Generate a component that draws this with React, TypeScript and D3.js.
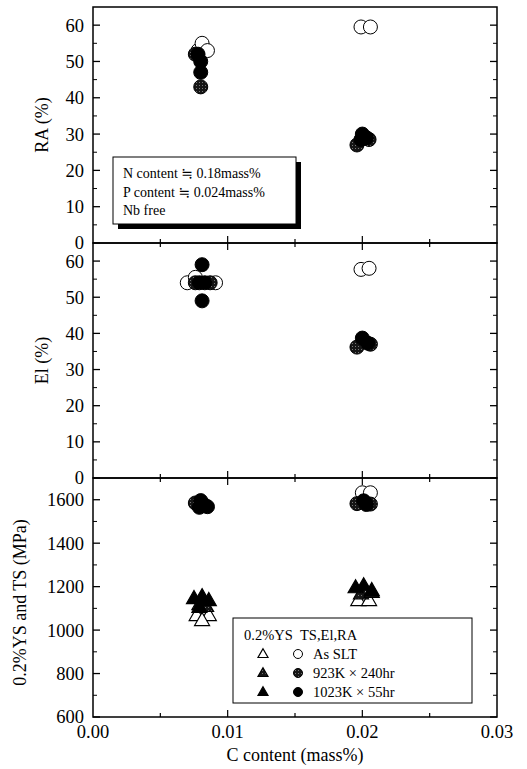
import * as d3 from "d3";

// x: C content (mass%)
const xTicks = [0, 0.01, 0.02, 0.03];

// RA (%)
const raOpen = [[0.0078, 53], [0.0081, 55], [0.0085, 53], [0.0199, 59.5], [0.0206, 59.5]];
const raGray = [[0.0076, 52], [0.0080, 43], [0.0196, 27], [0.0205, 28.5]];
const raBlack = [[0.0078, 52], [0.0080, 50], [0.0080, 47], [0.0199, 28.5], [0.0200, 30], [0.0203, 29]];

// El (%)
const elOpen = [[0.0070, 54], [0.0076, 55.5], [0.0091, 54], [0.0199, 57.7], [0.0205, 58]];
const elGray = [[0.0076, 54], [0.0087, 54], [0.0196, 36.2], [0.0206, 37]];
const elBlack = [[0.0081, 59], [0.0079, 54], [0.0083, 54], [0.0081, 49], [0.0200, 38.7], [0.0204, 37.3]];

// TS (MPa)
const tsOpen = [[0.0080, 1590], [0.0200, 1632], [0.0206, 1632]];
const tsGray = [[0.0076, 1585], [0.0083, 1575], [0.0196, 1582], [0.0206, 1580]];
const tsBlack = [[0.0080, 1596], [0.0079, 1565], [0.0085, 1568], [0.0201, 1595], [0.0203, 1578]];

// 0.2%YS (MPa)
const ysOpen = [[0.0077, 1068], [0.0086, 1068], [0.0081, 1045], [0.0197, 1137], [0.0205, 1137]];
const ysGray = [[0.0079, 1118], [0.0084, 1110], [0.0199, 1168], [0.0207, 1175]];
const ysBlack = [[0.0075, 1146], [0.0081, 1155], [0.0086, 1137], [0.0079, 1105], [0.0195, 1196], [0.0201, 1205], [0.0207, 1183]];

const legendRows = ["As SLT", "923K \u00d7 240hr", "1023K \u00d7 55hr"];

const W = 527;
const H = 769;
const left = 93;
const right = 497;
const font = "'Liberation Serif', 'DejaVu Serif', serif";

const x = d3.scaleLinear().domain([0, 0.03]).range([left, right]);
const yRA = d3.scaleLinear().domain([0, 65]).range([243, 7]);
const yEl = d3.scaleLinear().domain([0, 65]).range([478, 243]);
const yTS = d3.scaleLinear().domain([600, 1700]).range([717, 478]);

const fills = ["white", "url(#dots)", "black"];

function tri(cx: number, cy: number, s: number) {
  const h = s * 0.87;
  return `M${cx},${cy - h * 0.6}L${cx + s / 2},${cy + h * 0.4}L${cx - s / 2},${cy + h * 0.4}Z`;
}

function Panel({ y, major, minor, top }: any) {
  const [y0, y1] = y.range();
  return (
    <g>
      <rect x={left} y={y1} width={right - left} height={y0 - y1} fill="none" stroke="black" strokeWidth={1.5} />
      {minor.map((t: number) => (
        <g key={"m" + t}>
          <line x1={left} x2={left + 4} y1={y(t)} y2={y(t)} stroke="black" />
          <line x1={right} x2={right - 4} y1={y(t)} y2={y(t)} stroke="black" />
        </g>
      ))}
      {major.map((t: number) => (
        <g key={"M" + t}>
          <line x1={left} x2={left + 7} y1={y(t)} y2={y(t)} stroke="black" strokeWidth={1.3} />
          <line x1={right} x2={right - 7} y1={y(t)} y2={y(t)} stroke="black" strokeWidth={1.3} />
        </g>
      ))}
      {major.map((t: number) => (
        <text key={"l" + t} x={84} y={y(t)} dy="0.35em" textAnchor="end" fontSize={18.5}>{t}</text>
      ))}
      {d3.range(0.005, 0.03, 0.005).map((t) => {
        const isMajor = Math.abs(Math.round(t * 100) - t * 100) < 1e-6;
        const len = isMajor ? 7 : 4;
        return (
          <g key={"x" + t}>
            <line x1={x(t)} x2={x(t)} y1={y0} y2={y0 - len} stroke="black" strokeWidth={1.2} />
            {top && <line x1={x(t)} x2={x(t)} y1={y1} y2={y1 + len} stroke="black" strokeWidth={1.2} />}
          </g>
        );
      })}
    </g>
  );
}

function Circles({ y, sets }: any) {
  return (
    <g>
      {sets.map((pts: number[][], i: number) =>
        pts.map((p, j) => (
          <circle key={i + "-" + j} cx={x(p[0])} cy={y(p[1])} r={7} fill={fills[i]} stroke="black" strokeWidth={1} />
        ))
      )}
    </g>
  );
}

function Triangles({ y, sets }: any) {
  return (
    <g>
      {sets.map((pts: number[][], i: number) =>
        pts.map((p, j) => (
          <path key={i + "-" + j} d={tri(x(p[0]), y(p[1]), 15)} fill={fills[i]} stroke="black" strokeWidth={1.2} />
        ))
      )}
    </g>
  );
}

export default function App() {
  const lx = 233, ly = 618, lw = 239, lh = 85;
  return (
    <svg width={W} height={H} fontFamily={font} style={{ position: "absolute", left: 0, top: 0, background: "white", fontFamily: font }}>
      <defs>
        <pattern id="dots" width={3} height={3} patternUnits="userSpaceOnUse">
          <rect width={3} height={3} fill="#161616" />
          <rect x={1} y={1} width={1} height={1} fill="#777" />
        </pattern>
      </defs>
      <rect width={W} height={H} fill="white" />

      <Panel y={yRA} major={d3.range(0, 61, 10)} minor={d3.range(5, 65, 10)} top={false} />
      <Panel y={yEl} major={d3.range(0, 61, 10)} minor={d3.range(5, 65, 10)} top />
      <Panel y={yTS} major={d3.range(600, 1601, 200)} minor={d3.range(700, 1700, 200)} top />

      {/* note box in RA panel */}
      <rect x={118} y={162} width={183} height={67} fill="black" />
      <rect x={113} y={157} width={183} height={67} fill="white" stroke="black" strokeWidth={1} />
      <g fontSize={14}>
        <text x={123} y={178}>N content ≒ 0.18mass%</text>
        <text x={123} y={197}>P content ≒ 0.024mass%</text>
        <text x={123} y={215}>Nb free</text>
      </g>

      <Circles y={yRA} sets={[raOpen, raGray, raBlack]} />
      <Circles y={yEl} sets={[elOpen, elGray, elBlack]} />
      <Triangles y={yTS} sets={[ysOpen, ysGray, ysBlack]} />
      <Circles y={yTS} sets={[tsOpen, tsGray, tsBlack]} />

      {/* legend */}
      <rect x={lx} y={ly} width={lw} height={lh} fill="white" stroke="black" strokeWidth={1} />
      <g fontSize={14.5}>
        <text x={244} y={640}>0.2%YS</text>
        <text x={300} y={640}>TS,El,RA</text>
        {legendRows.map((r, i) => (
          <g key={r}>
            <path d={tri(263, 654 + i * 19, 10)} fill={fills[i]} stroke="black" strokeWidth={1.2} />
            <circle cx={298} cy={654 + i * 19} r={4.5} fill={fills[i]} stroke="black" strokeWidth={1} />
            <text x={313} y={659 + i * 19}>{r}</text>
          </g>
        ))}
      </g>

      {/* x axis labels */}
      {xTicks.map((t) => (
        <text key={t} x={x(t)} y={738} textAnchor="middle" fontSize={18.5}>{t.toFixed(2)}</text>
      ))}
      <text x={(left + right) / 2} y={761} textAnchor="middle" fontSize={18}>C content (mass%)</text>

      <text transform={`translate(48,${(yRA(0) + yRA(65)) / 2}) rotate(-90)`} textAnchor="middle" fontSize={18}>RA (%)</text>
      <text transform={`translate(48,${(yEl(0) + yEl(65)) / 2}) rotate(-90)`} textAnchor="middle" fontSize={18}>El (%)</text>
      <text transform={`translate(26,${(yTS(600) + yTS(1700)) / 2 + 5}) rotate(-90)`} textAnchor="middle" fontSize={18}>0.2%YS and TS (MPa)</text>
    </svg>
  );
}
